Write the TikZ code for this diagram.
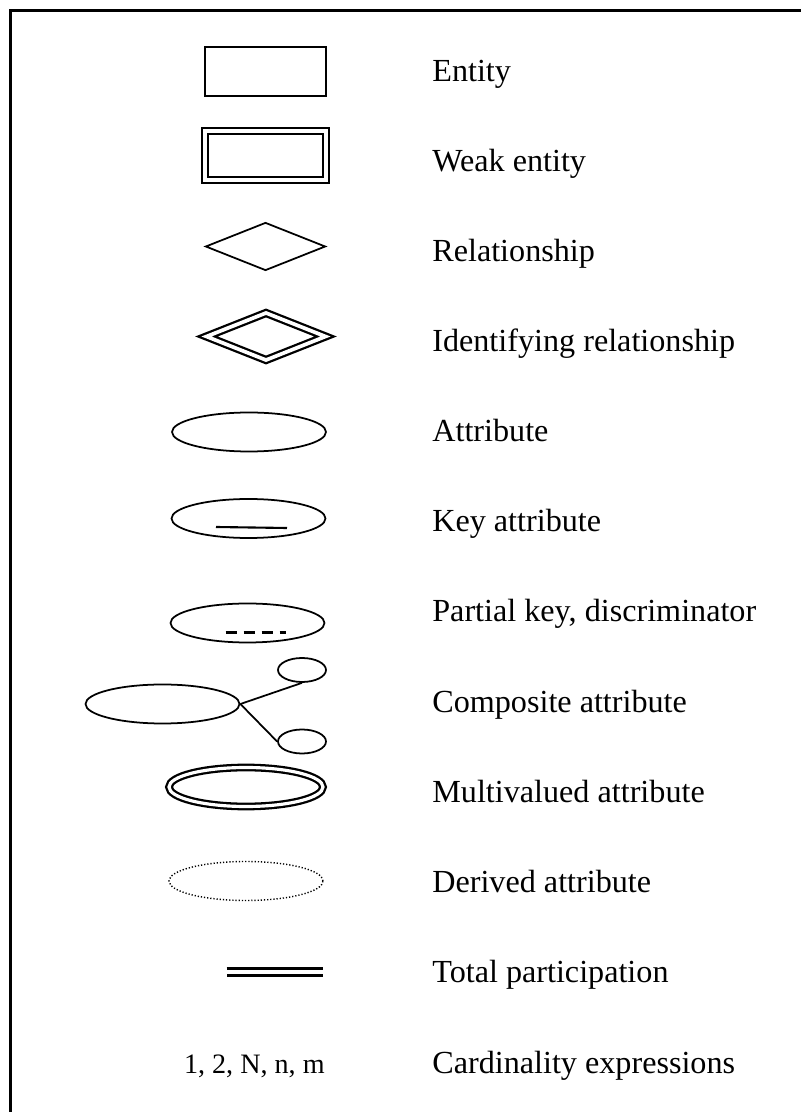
\documentclass[tikz,border=0pt]{standalone}
\usepackage{fontspec}
\setmainfont{Liberation Serif}
\usepackage{tikz}
\usetikzlibrary{shapes.geometric, positioning}
\tikzset{
  entity/.style={rectangle, draw=black, line width=1pt, inner sep=0pt,
    minimum width=2.42cm, minimum height=0.98cm},
  weakentity/.style={entity, line width=1.3pt, double, double distance=2.1pt},
  relship/.style={diamond, draw=black, line width=1pt, inner sep=0pt,
    minimum width=2.4cm, minimum height=0.96cm},
  identrel/.style={relship, line width=1.3pt, double, double distance=2.1pt},
  attr/.style={ellipse, draw=black, line width=1pt, inner sep=0pt,
    minimum width=3.08cm, minimum height=0.78cm},
  subattr/.style={attr, minimum width=0.96cm, minimum height=0.48cm},
  multiattr/.style={attr, line width=1.3pt, double, double distance=1.8pt},
  derivattr/.style={attr, line width=0.8pt, dash pattern=on 0.7pt off 1.1pt},
  keyline/.style={line width=1.2pt},
  partline/.style={line width=1.6pt, dash pattern=on 0.22cm off 0.14cm},
  link/.style={line width=1pt},
  totalpart/.style={line width=1.3pt, double, double distance=2.7pt},
  legtext/.style={anchor=base west, inner sep=0pt, font=\fontsize{18.3}{22}\selectfont},
  cardtext/.style={anchor=base east, inner sep=0pt, font=\fontsize{16}{19}\selectfont}
}

\begin{document}
\begin{tikzpicture}
  \useasboundingbox (0,0) rectangle (16.02,22.24);

  % Frame (open at right and bottom)
  \draw[line width=1.5pt] (0.206,0) -- (0.206,22.03) -- (16.02,22.03);

  % Entity
  \node[entity] (ent) at (5.31, 20.81) {};
  \node[legtext] (entlbl) at (8.64, 20.61) {Entity};

  % Weak entity
  \node[weakentity] (weak) at (5.31, 19.13) {};
  \node[legtext] (weaklbl) at (8.64, 18.80) {Weak entity};

  % Relationship
  \node[relship] (rel) at (5.31, 17.31) {};
  \node[legtext] (rellbl) at (8.64, 17.00) {Relationship};

  % Identifying relationship
  \node[identrel] (idrel) at (5.32, 15.51) {};
  \node[legtext] (idrellbl) at (8.64, 15.20) {Identifying relationship};

  % Attribute
  \node[attr] (att) at (4.98, 13.60) {};
  \node[legtext] (attlbl) at (8.64, 13.40) {Attribute};

  % Key attribute
  \node[attr] (key) at (4.97, 11.87) {};
  \draw[keyline] (4.32, 11.70) -- (5.74, 11.68);
  \node[legtext] (keylbl) at (8.64, 11.60) {Key attribute};

  % Partial key
  \node[attr] (part) at (4.95, 9.78) {};
  \draw[partline] (4.51, 9.59) -- (5.72, 9.59);
  \node[legtext] (partlbl) at (8.64, 9.80) {Partial key, discriminator};

  % Composite attribute
  \node[attr] (comp) at (3.25, 8.16) {};
  \node[subattr] (sub1) at (6.04, 8.84) {};
  \node[subattr] (sub2) at (6.04, 7.41) {};
  \draw[link] (comp.east) -- (sub1.south);
  \draw[link] (comp.east) -- (sub2.west);
  \node[legtext] (complbl) at (8.64, 7.99) {Composite attribute};

  % Multivalued attribute
  \node[multiattr] (multi) at (4.92, 6.50) {};
  \node[legtext] (multilbl) at (8.64, 6.19) {Multivalued attribute};

  % Derived attribute
  \node[derivattr] (deriv) at (4.92, 4.62) {};
  \node[legtext] (derivlbl) at (8.64, 4.39) {Derived attribute};

  % Total participation
  \coordinate (tp1) at (4.53, 2.80);
  \coordinate (tp2) at (6.45, 2.80);
  \draw[totalpart] (tp1) -- (tp2);
  \node[legtext] (tplbl) at (8.64, 2.59) {Total participation};

  % Cardinality
  \node[cardtext] (card) at (6.50, 0.78) {1, 2, N, n, m};
  \node[legtext] (cardlbl) at (8.64, 0.78) {Cardinality expressions};
\end{tikzpicture}
\end{document}
